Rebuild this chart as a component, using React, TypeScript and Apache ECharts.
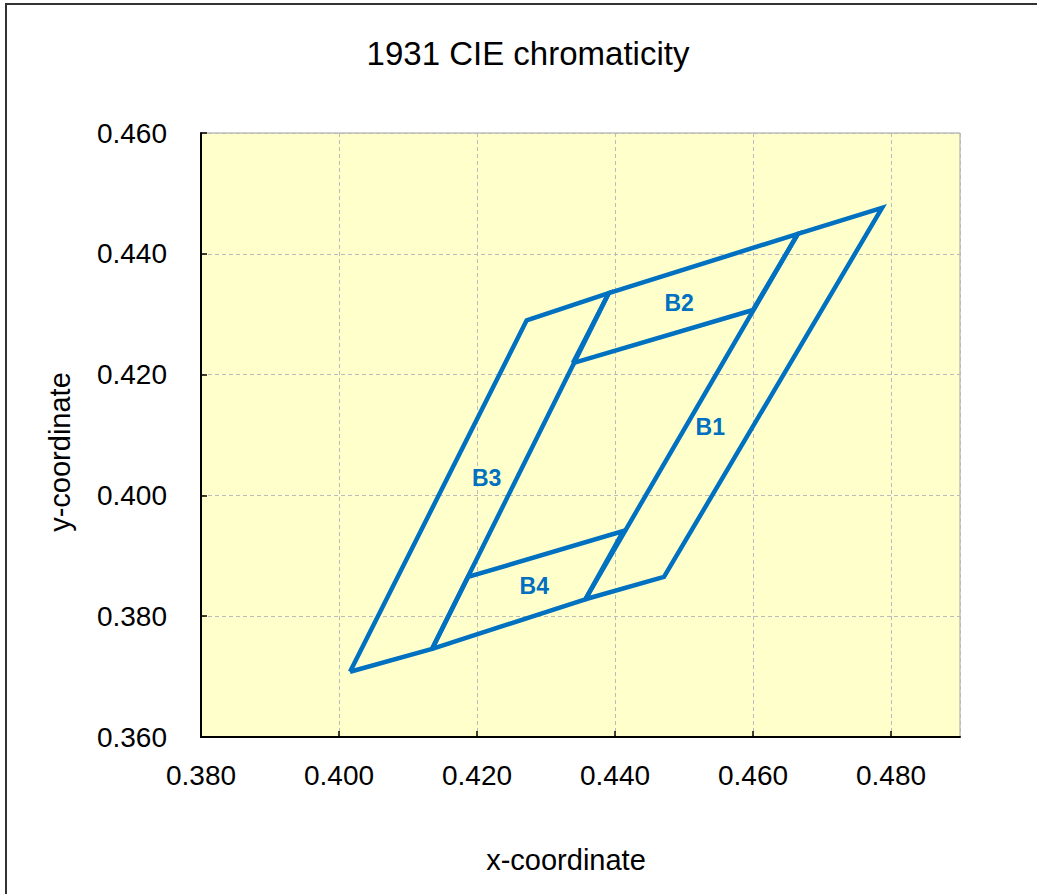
import React, { useEffect, useRef } from "react";
import * as echarts from "echarts";

const xTicks = [0.38, 0.49];
const yTicks = [0.36, 0.46];
const tickInterval = 0.02;

// Bin quadrangles (closed polygons), x/y chromaticity
const binB1: number[][] = [
  [0.4357, 0.3828], [0.4471, 0.3865], [0.4787, 0.4476], [0.4665, 0.4433], [0.4357, 0.3828],
];
const binB2: number[][] = [
  [0.4339, 0.4219], [0.46, 0.4307], [0.4665, 0.4433], [0.4391, 0.4335], [0.4339, 0.4219],
];
const binB3: number[][] = [
  [0.4016, 0.3708], [0.4135, 0.3746], [0.4391, 0.4335], [0.4272, 0.429], [0.4016, 0.3708],
];
const binB4: number[][] = [
  [0.4135, 0.3746], [0.4357, 0.3828], [0.4412, 0.3941], [0.4187, 0.3865], [0.4135, 0.3746],
];
const binNames = ["B1", "B2", "B3", "B4"];
const labelPositions: number[][] = [
  [0.4538, 0.4113], [0.4493, 0.4319], [0.4214, 0.4029], [0.4283, 0.385],
];

const BLUE = "#0070C0";
const FONT = "'Liberation Sans', Arial, Helvetica, sans-serif";

export default function App() {
  const ref = useRef<HTMLDivElement>(null);
  useEffect(() => {
    if (!ref.current) return;
    const chart = echarts.init(ref.current, undefined, { renderer: "svg" });
    const bins = [binB1, binB2, binB3, binB4];
    chart.setOption({
      animation: false,
      backgroundColor: "#ffffff",
      textStyle: { fontFamily: FONT },
      grid: {
        left: 201,
        right: 77,
        top: 133,
        bottom: 157,
        show: true,
        backgroundColor: "#FFFFCC",
        borderColor: "#a0a0a0",
        borderWidth: 1,
      },
      graphic: [
        {
          type: "rect",
          shape: { x: 6, y: 4, width: 1200, height: 1000 },
          style: { fill: "none", stroke: "#333333", lineWidth: 2 },
          silent: true,
        },
        {
          type: "text",
          x: 528,
          y: 53,
          style: {
            text: "1931 CIE chromaticity",
            font: `33px ${FONT}`,
            fill: "#000",
            align: "center",
            verticalAlign: "middle",
          },
        },
        {
          type: "text",
          x: 566,
          y: 860,
          style: {
            text: "x-coordinate",
            font: `29px ${FONT}`,
            fill: "#000",
            align: "center",
            verticalAlign: "middle",
          },
        },
        {
          type: "text",
          x: 60,
          y: 452,
          rotation: Math.PI / 2,
          style: {
            text: "y-coordinate",
            font: `29px ${FONT}`,
            fill: "#000",
            align: "center",
            verticalAlign: "middle",
          },
        },
      ],
      xAxis: {
        type: "value",
        min: xTicks[0],
        max: xTicks[1],
        interval: tickInterval,
        axisLine: { show: true, onZero: false, lineStyle: { color: "#000", width: 2 } },
        axisTick: { show: true, inside: true, length: 6, lineStyle: { color: "#000", width: 1.5 } },
        axisLabel: {
          showMaxLabel: false,
          margin: 24,
          fontSize: 28,
          color: "#000",
          fontFamily: FONT,
          formatter: (v: number) => v.toFixed(3),
        },
        splitLine: { show: true, lineStyle: { color: "#bbbbbb", type: [4, 3], width: 1 } },
      },
      yAxis: {
        type: "value",
        min: yTicks[0],
        max: yTicks[1],
        interval: tickInterval,
        axisLine: { show: true, onZero: false, lineStyle: { color: "#000", width: 2 } },
        axisTick: { show: true, inside: true, length: 6, lineStyle: { color: "#000", width: 1.5 } },
        axisLabel: {
          margin: 34,
          fontSize: 28,
          color: "#000",
          fontFamily: FONT,
          formatter: (v: number) => v.toFixed(3),
        },
        splitLine: { show: true, lineStyle: { color: "#bbbbbb", type: [4, 3], width: 1 } },
      },
      series: [
        ...bins.map((d, i) => ({
          type: "line",
          name: binNames[i],
          data: d,
          showSymbol: false,
          symbol: "none",
          lineStyle: { color: BLUE, width: 4.5, join: "miter" },
          z: 3,
        })),
        {
          type: "custom",
          data: labelPositions.map((p, i) => [p[0], p[1], i]),
          renderItem: (params: any, api: any) => {
            const pt = api.coord([api.value(0), api.value(1)]);
            const idx = api.value(2);
            return {
              type: "text",
              x: pt[0],
              y: pt[1],
              style: {
                text: binNames[idx],
                fill: BLUE,
                font: `bold 23px ${FONT}`,
                align: "center",
                verticalAlign: "middle",
              },
            };
          },
          z: 4,
        },
      ],
    });
    return () => chart.dispose();
  }, []);
  return (
    <div
      ref={ref}
      style={{ position: "fixed", left: 0, top: 0, width: 1037, height: 894 }}
    />
  );
}
